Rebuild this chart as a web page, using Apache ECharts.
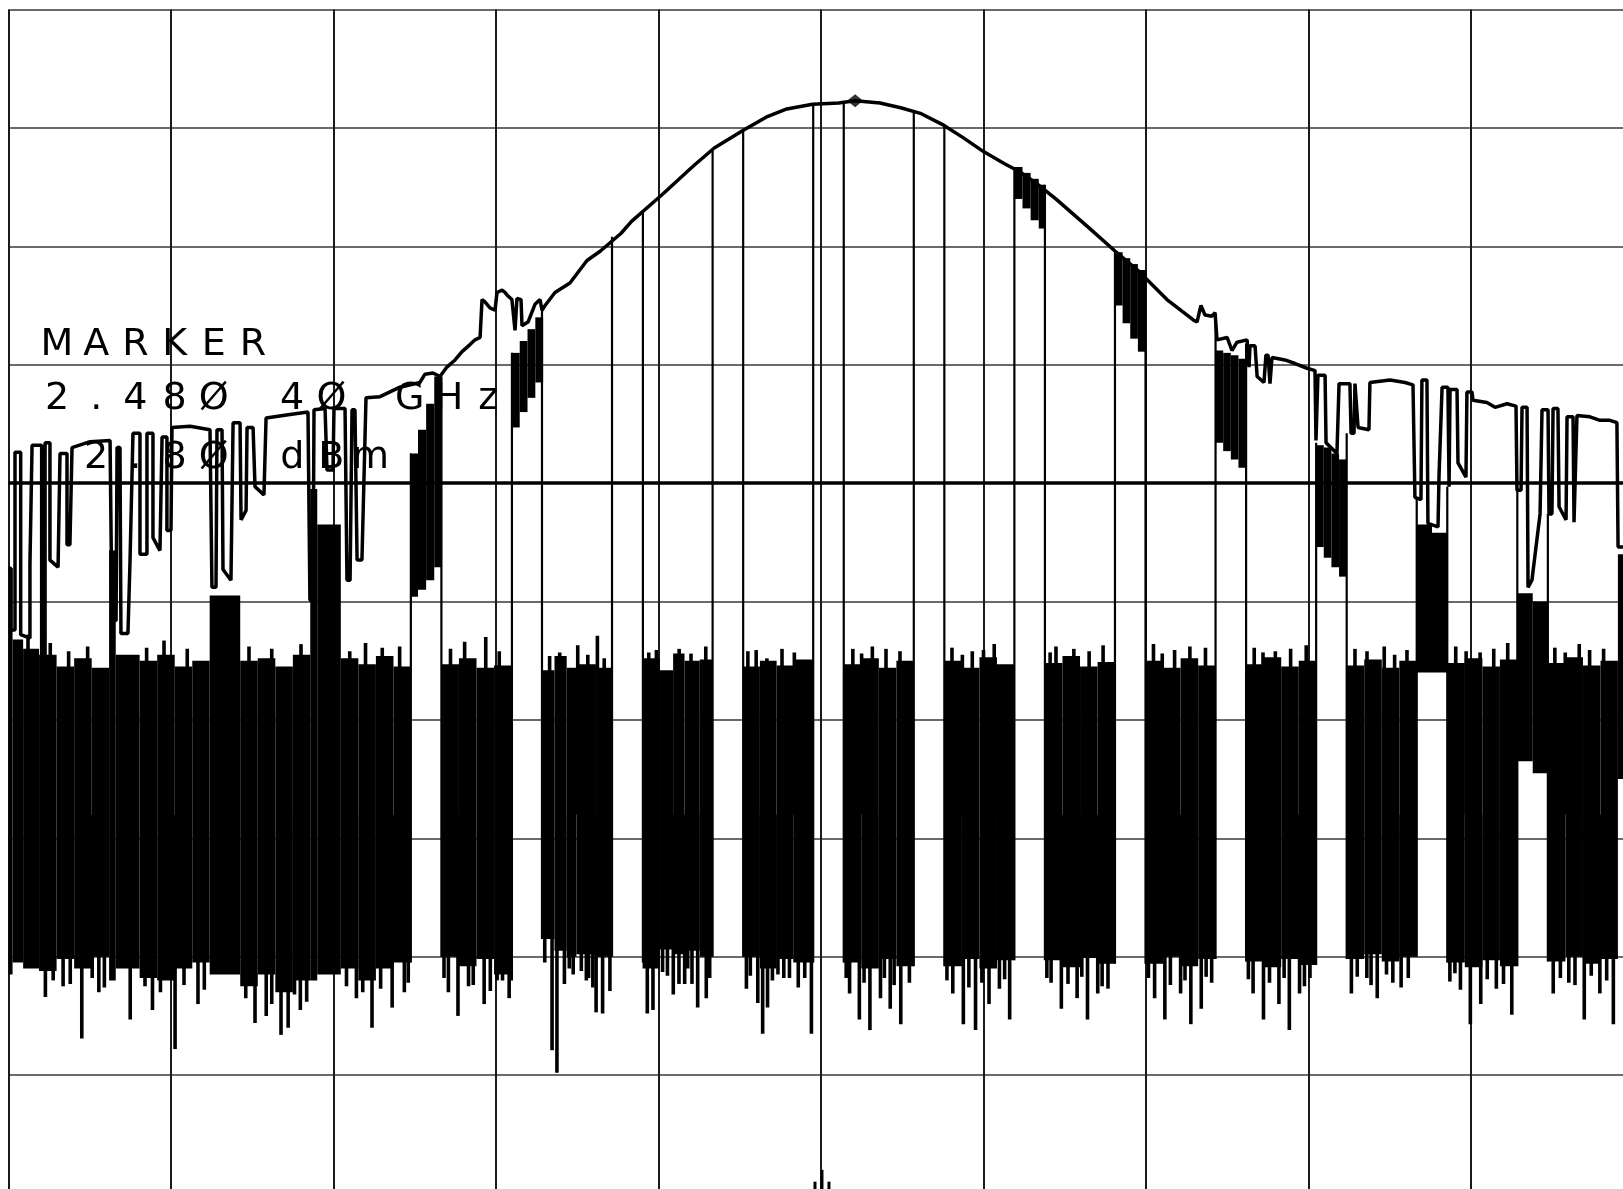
<!DOCTYPE html>
<html>
<head>
<meta charset="utf-8">
<script src="https://cdn.jsdelivr.net/npm/echarts@6/dist/echarts.min.js"></script>
<style>
html,body{margin:0;padding:0;background:#fff;}
#chart{width:1623px;height:1189px;}
</style>
</head>
<body>
<div id="chart"></div>
<script>
// ---- data (x: trace position 0..1000 = 10 divisions, y: dBm, 10 dB/div) ----
const xRange = [0, 1000];
const yRange = [-90, 10];
const displayLineLevel = -30;
const bandCoreLevel = -58;
const markerPeak = [[521.0, 2.3]];
const markerText = ['MARKER', '2.48Ø 4Ø GHz', ' 2.8Ø dBm'];

// max-hold trace
const envelope = [
[0,-37.2],[1.5,-37.2],[1.5,-42.4],[4.0,-42.4],[4.0,-27.4],[7.5,-27.4],[7.5,-42.8],[13.2,-43.1],[13.2,-36.8],[14.5,-26.8],
[20.4,-26.8],[20.4,-44.9],[22.5,-44.9],[22.5,-26.6],[25.5,-26.6],[25.5,-36.5],[30.5,-37.1],[31.7,-27.5],[36.0,-27.5],[36.0,-35.2],
[37.8,-35.2],[39.1,-27.0],[50.2,-26.5],[62.5,-26.4],[63.7,-41.6],[66.2,-41.6],[66.8,-27.0],[68.6,-27.0],[69.2,-42.7],[73.5,-42.7],
[74.8,-36.5],[76.0,-36.5],[76.6,-25.8],[80.9,-25.8],[80.9,-36.0],[85.2,-36.0],[85.2,-25.8],[88.9,-25.8],[88.9,-34.6],[93.2,-35.7],
[94.5,-26.1],[97.5,-26.1],[97.5,-34.0],[100.0,-34.0],[100.6,-25.3],[111.7,-25.2],[124.0,-25.5],[125.2,-38.8],[127.7,-38.8],[128.3,-25.5],
[131.4,-25.5],[132.0,-37.3],[136.9,-38.2],[138.2,-24.9],[142.5,-24.9],[143.1,-33.1],[146.2,-32.3],[146.8,-25.3],[150.5,-25.3],[151.7,-30.3],
[157.2,-31.0],[158.5,-24.5],[173.2,-24.2],[184.3,-24.0],[185.5,-39.9],[187.4,-39.9],[188.0,-23.8],[194.8,-23.7],[196.0,-28.9],[199.7,-28.9],
[200.3,-23.7],[207.1,-23.7],[208.3,-38.2],[210.2,-38.2],[211.4,-23.8],[213.2,-23.8],[214.5,-36.5],[217.5,-36.5],[220.0,-22.8],[228.6,-22.7],
[240.9,-21.9],[253.2,-21.5],[256.3,-20.8],[261.2,-20.7],[265.5,-21.0],[269.8,-20.2],[274.8,-19.6],[279.1,-18.9],[284.0,-18.3],[287.1,-17.9],
[290.2,-17.7],[291.4,-14.5],[293.2,-14.7],[296.3,-15.2],[299.4,-15.4],[300.6,-13.9],[303.7,-13.7],[305.5,-13.9],[307.4,-14.2],[309.8,-14.5],
[311.7,-17.1],[312.9,-14.4],[315.4,-14.5],[316.0,-16.7],[319.7,-16.4],[324.0,-14.9],[327.1,-14.5],[328.3,-15.4],[330.2,-15.0],[336.3,-13.9],
[345.5,-13.1],[356.0,-11.2],[364.3,-10.4],[377.0,-8.9],[383.4,-7.9],[402.5,-5.6],[421.6,-3.2],[434.3,-1.7],[452.2,-0.2],[466.2,0.9],
[479.0,1.6],[494.8,2.0],[510.8,2.1],[521.0,2.3],[536.3,2.1],[549.0,1.7],[561.7,1.2],[574.5,0.3],[587.2,-0.8],[600.0,-2.0],
[612.7,-3.0],[622.2,-3.7],[631.8,-4.6],[644.5,-6.0],[663.7,-8.3],[680.9,-10.4],[695.5,-12.1],[712.9,-14.5],[728.9,-16.2],[731.4,-16.4],
[733.8,-15.0],[736.3,-15.8],[740.6,-15.9],[742.5,-15.6],[743.7,-17.9],[749.9,-17.7],[752.9,-18.8],[756.0,-18.1],[762.2,-17.9],[763.4,-20.2],
[764.0,-18.4],[767.1,-18.4],[768.4,-21.0],[772.6,-21.5],[773.8,-19.2],[775.1,-19.2],[776.3,-21.6],[777.5,-19.4],[785.5,-19.6],[791.7,-19.9],
[799.1,-20.3],[804.0,-20.5],[804.6,-26.4],[805.8,-20.9],[810.2,-20.9],[810.8,-26.6],[817.5,-27.5],[818.8,-21.6],[825.5,-21.6],[826.2,-25.8],
[828.0,-25.8],[828.6,-21.6],[829.8,-21.6],[830.5,-25.3],[837.2,-25.5],[837.8,-21.5],[850.2,-21.3],[859.4,-21.5],[864.3,-21.7],[865.5,-31.2],
[869.2,-31.4],[869.8,-21.3],[872.9,-21.3],[873.5,-33.4],[879.7,-33.7],[880.3,-29.5],[881.5,-29.5],[882.2,-21.9],[885.8,-21.9],[886.5,-30.3],
[887.1,-22.1],[891.4,-22.1],[892.0,-28.3],[896.9,-29.5],[897.5,-22.3],[900.6,-22.3],[901.2,-23.0],[909.8,-23.2],[914.8,-23.6],[922.2,-23.3],
[927.7,-23.5],[928.3,-30.6],[930.8,-30.6],[931.4,-23.6],[934.5,-23.6],[935.1,-38.8],[937.5,-38.2],[942.5,-32.6],[943.7,-23.8],[947.4,-23.8],
[948.0,-32.6],[949.8,-32.6],[950.5,-23.7],[953.5,-23.7],[954.2,-32.0],[958.5,-33.1],[959.1,-24.4],[962.8,-24.4],[963.4,-33.3],[964.6,-33.3],
[965.2,-24.3],[973.2,-24.4],[979.4,-24.7],[985.5,-24.7],[989.8,-24.9],[990.5,-35.4],[993.5,-35.4]
];

// clear-write trace: filled columns [x0, x1, low dBm, high dBm]
const bandBody = [
[0.0,2.5,-71.5,-37.2],[2.5,9.0,-70.5,-43.2],[9.0,18.8,-71.0,-44.0],
[18.8,29.6,-71.2,-44.5],[29.6,40.4,-70.2,-45.5],[40.4,51.2,-71.0,-44.8],[51.2,61.9,-70.0,-45.6],
[61.9,66.0,-72.0,-35.7],[66.0,80.7,-71.0,-44.5],
[80.7,91.5,-71.8,-45.0],[91.5,102.3,-72.0,-44.5],[102.3,113.1,-71.0,-45.5],[113.1,123.8,-70.5,-45.0],
[123.8,142.6,-71.5,-39.5],
[142.6,153.4,-72.5,-45.0],[153.4,164.2,-71.5,-44.8],[164.2,175.0,-73.0,-45.5],[175.0,185.7,-72.0,-44.5],
[185.7,190.0,-72.0,-30.5],[190.0,204.5,-71.5,-33.5],
[204.5,215.3,-71.0,-44.8],[215.3,226.1,-72.0,-45.3],[226.1,236.9,-71.0,-44.6],[236.9,247.6,-70.5,-45.5],
[266.4,277.2,-70.0,-45.3],[277.2,288.0,-70.8,-44.8],[288.0,298.8,-70.2,-45.6],[298.8,309.5,-71.5,-45.4],
[328.3,336.0,-68.5,-45.8],[336.0,343.5,-69.5,-44.6],[343.5,349.5,-70.0,-45.6],[349.5,361.5,-69.8,-45.3],[361.5,371.4,-70.0,-45.6],
[390.2,400.8,-71.0,-44.8],[400.8,409.0,-69.4,-45.8],[409.0,416.0,-69.8,-44.4],[416.0,425.4,-69.5,-45.0],[425.4,433.3,-70.0,-44.9],
[452.1,462.4,-70.0,-45.5],[462.4,472.7,-71.0,-45.0],[472.7,482.9,-70.2,-45.4],[482.9,495.2,-70.5,-44.9],
[514.0,524.8,-70.5,-45.3],[524.8,535.6,-71.0,-44.8],[535.6,546.4,-70.2,-45.6],[546.4,557.1,-70.8,-45.0],
[575.9,586.7,-70.8,-45.0],[586.7,597.5,-70.2,-45.6],[597.5,608.3,-71.0,-44.7],[608.3,619.0,-70.3,-45.3],
[637.8,648.6,-70.3,-45.2],[648.6,659.4,-70.9,-44.6],[659.4,670.2,-70.1,-45.5],[670.2,680.9,-70.6,-45.1],
[699.7,710.5,-70.6,-45.0],[710.5,721.3,-70.0,-45.6],[721.3,732.1,-70.8,-44.8],[732.1,742.8,-70.2,-45.4],
[761.6,772.4,-70.4,-45.3],[772.4,783.2,-70.9,-44.7],[783.2,794.0,-70.2,-45.5],[794.0,804.7,-70.7,-45.0],
[823.5,834.3,-70.2,-45.4],[834.3,845.1,-69.8,-44.9],[845.1,855.9,-70.4,-45.6],[855.9,866.6,-70.0,-45.0],
[885.4,896.2,-70.5,-45.2],[896.2,907.0,-70.9,-44.8],[907.0,917.8,-70.3,-45.5],[917.8,928.5,-70.8,-44.9],
[947.3,958.1,-70.4,-45.2],[958.1,968.9,-70.0,-44.7],[968.9,979.7,-70.6,-45.4],[979.7,990.4,-70.2,-45.0]
];

// short excursions of the clear-write trace beyond the band edges [x, end level dBm]
const bandSpikes = [
[22.7,-73.4],[33.6,-72.5],[45.1,-76.9],[55.6,-73.0],[25.7,-43.5],[48.7,-43.8],[27.5,-72.0],[38.0,-72.3],[51.5,-71.8],[59.0,-72.6],[12.0,-42.8],[37.0,-44.2],
[74.9,-75.3],
[88.6,-74.5],[102.5,-77.8],[116.6,-74.0],[95.7,-43.3],[84.0,-72.5],[93.5,-73.0],[108.0,-72.4],[120.5,-72.8],[85.0,-43.9],[110.0,-44.0],
[151.7,-75.6],[158.6,-75.0],[167.7,-76.6],[172.1,-76.0],[179.6,-74.5],[146.0,-73.5],[162.0,-74.0],[176.0,-73.2],[183.5,-73.8],[148.0,-43.8],[162.0,-44.0],[180.0,-43.6],
[214.1,-73.5],[223.7,-76.0],[236.1,-74.3],[243.6,-73.0],[219.7,-43.5],[240.7,-43.8],[208.0,-72.5],[218.0,-73.0],[229.0,-72.7],[246.0,-72.2],[210.0,-44.2],[230.0,-43.9],
[270.7,-73.0],[276.6,-75.0],[283.1,-72.5],[292.7,-74.0],[300.7,-72.0],[308.1,-73.5],[280.7,-43.4],[293.7,-43.0],[268.0,-71.8],[286.0,-72.4],[296.5,-72.9],[304.0,-72.0],[272.0,-44.0],[302.0,-44.2],
[339.2,-44.3],[350.3,-43.7],[362.4,-42.9],[366.6,-44.8],[333.0,-44.6],[356.5,-44.5],
[334.5,-77.9],[337.5,-79.8],[342.1,-72.3],[345.1,-71.0],[355.6,-72.0],[359.6,-72.6],[361.6,-74.7],[365.6,-74.8],[370.1,-72.9],[330.0,-70.5],[347.5,-71.5],[352.5,-71.2],[357.0,-71.8],
[398.7,-44.1],[429.1,-43.8],[412.7,-44.0],[394.0,-44.3],[420.0,-44.4],
[393.1,-74.8],[396.6,-74.5],[409.1,-73.2],[412.6,-72.3],[416.1,-72.3],[420.6,-72.3],[424.1,-74.3],[429.4,-73.5],[402.5,-71.3],[405.5,-71.6],[418.0,-71.0],[431.5,-71.8],
[460.1,-44.1],[466.7,-44.8],[483.6,-44.3],[455.0,-44.2],[476.0,-44.0],
[454.1,-72.7],[461.1,-73.9],[464.1,-76.5],[467.1,-74.3],[470.1,-72.0],[477.1,-71.8],[480.6,-71.8],[494.1,-76.5],[456.5,-71.6],[473.5,-71.5],[486.0,-72.6],[490.0,-71.8],
[519.6,-44.0],[531.6,-43.8],[548.6,-44.2],[525.0,-44.4],[540.0,-44.0],
[517.6,-73.1],[523.6,-75.3],[530.1,-76.2],[536.6,-73.5],[542.6,-74.4],[549.1,-75.7],[554.4,-72.2],[515.5,-71.8],[526.5,-72.2],[539.0,-71.8],[545.0,-72.4],
[580.6,-43.9],[593.1,-44.2],[606.6,-43.6],[587.0,-44.5],[600.0,-44.1],
[581.1,-73.1],[587.6,-75.7],[595.1,-76.2],[603.4,-74.0],[609.8,-72.7],[616.1,-75.3],[577.5,-72.0],[591.0,-72.6],[599.0,-72.2],[613.0,-71.9],
[644.6,-43.8],[655.6,-44.0],[673.6,-43.7],[641.0,-44.3],[665.0,-44.2],
[641.6,-72.2],[647.9,-74.4],[657.6,-73.5],[664.0,-75.3],[670.3,-73.1],[676.6,-72.7],[639.0,-71.8],[652.0,-72.3],[660.5,-71.7],[673.0,-72.5],
[704.6,-43.6],[717.6,-44.1],[736.6,-43.9],[710.0,-44.4],[727.0,-43.8],
[705.3,-73.5],[711.6,-75.3],[721.3,-73.1],[727.6,-75.7],[734.0,-74.4],[740.4,-72.2],[701.5,-71.8],[715.0,-72.4],[724.0,-72.0],[737.0,-71.7],
[766.6,-43.9],[779.6,-44.2],[798.6,-43.7],[772.0,-44.3],[789.0,-44.0],
[765.9,-73.1],[772.3,-75.3],[781.8,-74.0],[788.2,-76.2],[794.5,-73.1],[800.9,-71.8],[763.0,-71.9],[776.0,-72.2],[785.0,-71.8],[797.5,-72.5],
[828.6,-44.0],[846.6,-43.8],[860.6,-44.1],[836.0,-44.2],[853.0,-44.5],
[826.4,-73.1],[835.9,-71.8],[842.3,-73.5],[851.9,-72.2],[861.4,-71.8],[830.0,-71.7],[838.5,-72.4],[848.0,-71.5],[857.0,-72.6],
[890.6,-43.8],[905.6,-44.3],[922.6,-43.5],[897.0,-44.2],[914.0,-44.0],
[890.1,-71.4],[899.6,-75.7],[906.0,-74.0],[915.6,-72.7],[925.1,-74.9],[887.0,-72.1],[893.5,-72.8],[910.0,-71.9],[920.0,-72.3],
[951.6,-43.9],[966.6,-43.6],[981.6,-44.0],[958.0,-44.3],[973.0,-44.1],
[950.6,-73.1],[960.2,-72.2],[969.7,-75.3],[979.3,-73.1],[987.6,-75.7],[955.0,-71.8],[964.0,-72.4],[974.0,-71.6],[983.5,-72.0]
];

// bursts of the clear-write trace inside the channel gaps [x0, x1, low, high]
const gapBursts = [
[247.1,252.0,-39.6,-27.5],[252.0,257.0,-39.0,-25.5],[257.0,262.0,-38.2,-23.3],[262.0,266.8,-37.1,-21.0],
[309.8,314.6,-25.3,-19.0],[314.6,319.4,-24.0,-18.0],[319.4,324.2,-22.8,-17.0],[324.2,329.0,-21.5,-16.0],
[619.0,624.0,-6.0,-3.3],[624.0,629.0,-6.8,-3.8],[629.0,634.0,-7.8,-4.3],[634.0,637.8,-8.5,-4.8],
[680.9,685.6,-15.0,-10.5],[685.6,690.3,-16.5,-11.0],[690.3,695.0,-17.8,-11.5],[695.0,699.7,-18.9,-12.0],
[742.8,747.5,-26.6,-18.8],[747.5,752.2,-27.3,-19.0],[752.2,756.9,-28.0,-19.2],[756.9,761.6,-28.7,-19.5],
[804.7,809.4,-35.4,-26.8],[809.4,814.1,-36.3,-27.0],[814.1,818.8,-37.1,-27.5],[818.8,823.5,-37.9,-28.0],
[866.6,876.0,-46.0,-33.5],[876.0,885.4,-46.0,-34.2],
[928.5,938.0,-53.5,-39.3],[938.0,947.3,-54.5,-40.0],
[990.4,1000,-55.0,-36.0]
];

// vertical strokes of the clear-write trace at channel edges [x, low, high]
const edgeLines = [
[247.6,-70.5,-27.5],[266.4,-70.0,-21.0],[309.8,-72.0,-19.0],[328.3,-68.5,-15.4],
[371.4,-70.0,-9.2],[390.4,-70.5,-7.1],[433.3,-70.0,-1.9],[452.1,-70.0,-0.2],
[495.2,-70.5,2.0],[514.0,-70.5,2.1],[557.1,-70.8,1.4],[575.9,-70.8,0.3],
[619.0,-70.3,-3.3],[637.8,-70.3,-4.8],[680.9,-70.6,-10.5],[699.7,-70.6,-12.0],
[742.8,-70.2,-16.0],[761.6,-70.4,-18.2],[804.7,-70.7,-26.6],[823.5,-70.2,-25.8],
[866.6,-70.0,-31.2],[885.4,-70.5,-30.3],[928.5,-70.8,-30.6],[947.3,-70.4,-32.6]
];
const centerMarks = [[496.3,-90,-89.0],[500.6,-90,-88.0],[504.9,-90,-89.0]];

// ---- rendering ----
function rectItem(params, api) {
  const a = api.coord([api.value(0), api.value(3)]);
  const b = api.coord([api.value(1), api.value(2)]);
  return {
    type: 'rect',
    shape: { x: a[0], y: a[1], width: Math.max(b[0] - a[0], 1.5), height: b[1] - a[1] },
    style: { fill: '#000' }
  };
}
function spikeItem(params, api) {
  const a = api.coord([api.value(0), api.value(1)]);
  const b = api.coord([api.value(0), bandCoreLevel]);
  const top = Math.min(a[1], b[1]);
  return {
    type: 'rect',
    shape: { x: a[0] - 1.8, y: top, width: 3.6, height: Math.abs(b[1] - a[1]) },
    style: { fill: '#000' }
  };
}
function vlineItem(width) {
  return function (params, api) {
    const a = api.coord([api.value(0), api.value(2)]);
    const b = api.coord([api.value(0), api.value(1)]);
    return {
      type: 'line',
      shape: { x1: a[0], y1: a[1], x2: b[0], y2: b[1] },
      style: { stroke: '#000', lineWidth: width }
    };
  };
}

const textEls = [];
const lineCenters = [345, 399, 458];
markerText.forEach(function (str, li) {
  for (let i = 0; i < str.length; i++) {
    if (str[i] === ' ') continue;
    textEls.push({
      type: 'text', x: 57 + i * 39.2, y: lineCenters[li], z: 100,
      style: { text: str[i], fill: '#000', font: '38px "DejaVu Sans"', align: 'center', verticalAlign: 'middle' }
    });
  }
});

const chart = echarts.init(document.getElementById('chart'), null, { renderer: 'canvas' });
chart.setOption({
  animation: false,
  backgroundColor: '#fff',
  grid: { left: 8.5, top: 9.5, width: 1625, height: 1184, outerBoundsMode: 'none', containLabel: false },
  xAxis: {
    type: 'value', min: xRange[0], max: xRange[1], interval: 100,
    axisLine: { show: false }, axisTick: { show: false }, axisLabel: { show: false },
    splitLine: { show: true, lineStyle: { color: '#1a1a1a', width: 2 } }
  },
  yAxis: {
    type: 'value', min: yRange[0], max: yRange[1], interval: 10,
    axisLine: { show: false }, axisTick: { show: false }, axisLabel: { show: false },
    splitLine: { show: true, lineStyle: { color: '#6a6a6a', width: 2 } }
  },
  graphic: textEls,
  series: [
    { type: 'custom', renderItem: rectItem, data: bandBody, encode: { x: [0, 1], y: [2, 3] }, z: 2, silent: true },
    { type: 'custom', renderItem: spikeItem, data: bandSpikes, encode: { x: 0, y: 1 }, z: 2, silent: true },
    { type: 'custom', renderItem: rectItem, data: gapBursts, encode: { x: [0, 1], y: [2, 3] }, z: 2, silent: true },
    { type: 'custom', renderItem: vlineItem(2.2), data: edgeLines, encode: { x: 0, y: [1, 2] }, z: 3, silent: true },
    { type: 'custom', renderItem: vlineItem(3), data: centerMarks, encode: { x: 0, y: [1, 2] }, z: 3, silent: true },
    {
      type: 'line', data: envelope, symbol: 'none', z: 4, silent: true,
      lineStyle: { color: '#000', width: 3.5 },
      markLine: {
        silent: true, symbol: 'none', label: { show: false },
        lineStyle: { color: '#000', width: 3.5, type: 'solid' },
        data: [{ yAxis: displayLineLevel }]
      }
    },
    { type: 'scatter', data: markerPeak, symbol: 'diamond', symbolSize: [16, 13], itemStyle: { color: '#000' }, z: 5, silent: true }
  ]
});
</script>
</body>
</html>
